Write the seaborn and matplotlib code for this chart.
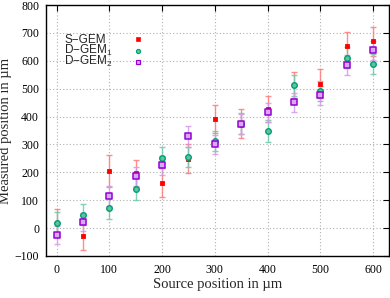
import matplotlib
matplotlib.use("Agg")
import matplotlib.pyplot as plt
import seaborn as sns
import numpy as np
import pandas as pd

source = [0, 50, 100, 150, 200, 250, 300, 350, 400, 450, 500, 550, 600]

sgem = [19, -27, 205, 196, 163, 249, 391, 375, 427, 512, 518, 654, 670]
sgem_err = [48, 51, 57, 47, 53, 53, 49, 52, 48, 46, 51, 50, 52]

dgem1 = [20, 48, 73, 139, 252, 254, 313, 374, 348, 512, 491, 611, 589]
dgem1_err = [38, 37, 40, 39, 38, 36, 36, 38, 41, 38, 37, 38, 37]

dgem2 = [-25, 21, 115, 186, 225, 329, 300, 373, 415, 451, 476, 584, 637]
dgem2_err = [32, 33, 35, 34, 35, 37, 35, 36, 35, 35, 34, 36, 35]

labels = ["S\u2212GEM", "D\u2212GEM$_1$", "D\u2212GEM$_2$"]
xticks = [0, 100, 200, 300, 400, 500, 600]
yticks = [-100, 0, 100, 200, 300, 400, 500, 600, 700, 800]

sns.set_style("white")
plt.rcParams['font.family'] = ['Liberation Serif', 'DejaVu Serif']
plt.rcParams['mathtext.fontset'] = 'custom'
plt.rcParams['mathtext.rm'] = 'Liberation Sans'
plt.rcParams['mathtext.it'] = 'Liberation Sans'

fig = plt.figure(figsize=(3.9, 2.98), dpi=100)
ax = fig.add_axes([46/390, 42/298, 343/390, 251/298])

series = [
    (sgem, sgem_err, "#ff0000", "#ff7a7a", "s", "#ff0000", 3.1, 0.6, 2.4),
    (dgem1, dgem1_err, "#009e73", "#70c8ac", "o", "#5cc4a0", 4.0, 1.0, 3.0),
    (dgem2, dgem2_err, "#9400d3", "#d39ae8", "s", "#d9a8f5", 4.3, 1.1, 3.0),
]

text_base = [0.8486, 0.8048, 0.7610]
mark_y = [(256 - 39) / 251, (256 - 50.7) / 251, (256 - 62.3) / 251]
for (vals, errs, col, ecol, mk, fc, ms, mew, lms), lab, ty, my in zip(series, labels, text_base, mark_y):
    ax.errorbar(source, vals, yerr=errs, fmt='none', ecolor=ecol, elinewidth=1.0,
                capsize=2.2, capthick=1.0, alpha=0.85, zorder=2)
    df = pd.DataFrame({"x": source, "y": vals})
    sns.scatterplot(data=df, x="x", y="y", ax=ax, marker=mk, s=ms**2,
                    color=fc, edgecolor=col, linewidth=mew, zorder=3, legend=False)
    # legend entry: text on the left, marker on the right
    ax.text(0.0525, ty, lab, transform=ax.transAxes, ha='left', va='baseline',
            family='Liberation Sans', fontsize=8.5)
    ax.plot([0.268], [my], transform=ax.transAxes, linestyle='none', marker=mk,
            markersize=lms, markerfacecolor=fc, markeredgecolor=col,
            markeredgewidth=mew * 0.8, clip_on=False)

ax.set_xlim(-20, 630)
ax.set_ylim(-100, 800)
ax.set_xticks(xticks)
ax.set_yticks(yticks)
ax.set_xticklabels([str(t) for t in xticks])
ax.set_yticklabels([str(t).replace('-', '\u2212') for t in yticks])
ax.tick_params(direction='in', top=True, right=True, length=4, width=0.8,
               labelsize=8.5, colors='black')
ax.tick_params(axis='y', pad=5)
ax.tick_params(axis='x', pad=6)
ax.grid(True, linestyle=(0, (1, 2)), color='#b0b0b0', linewidth=0.8)
for s in ax.spines.values():
    s.set_color('black')
    s.set_linewidth(1.0)

ax.set_xlabel("Source position in \u00b5m", fontsize=10.5, labelpad=1)
ax.set_ylabel("Measured position in \u00b5m", fontsize=10.5, labelpad=2)

fig.savefig("out.png", dpi=100)
